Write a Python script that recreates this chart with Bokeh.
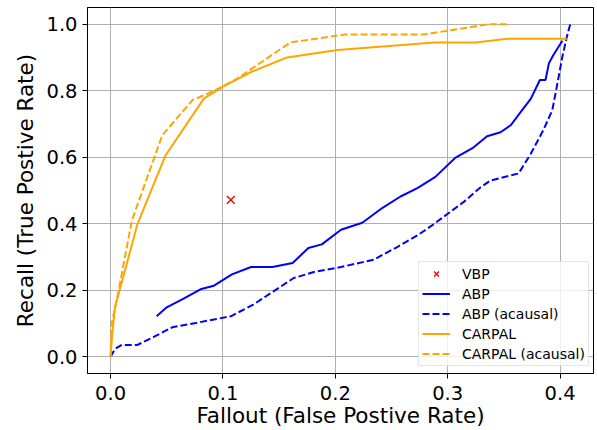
from bokeh.plotting import figure
from bokeh.models import Legend, LegendItem, FixedTicker, PrintfTickFormatter, Range1d
from bokeh.embed import file_html
from bokeh.resources import INLINE

# ---- data ----
vbp_x = [0.107]
vbp_y = [0.472]

abp_x = [0.041, 0.050, 0.065, 0.080, 0.092, 0.108, 0.125, 0.144, 0.162, 0.176,
         0.188, 0.205, 0.224, 0.242, 0.258, 0.273, 0.289, 0.307, 0.322, 0.335,
         0.347, 0.356, 0.365, 0.374, 0.382, 0.387, 0.390, 0.394, 0.402]
abp_y = [0.122, 0.149, 0.175, 0.203, 0.214, 0.248, 0.270, 0.270, 0.282, 0.327,
         0.338, 0.382, 0.403, 0.448, 0.482, 0.507, 0.541, 0.599, 0.627, 0.663,
         0.675, 0.696, 0.736, 0.776, 0.832, 0.832, 0.882, 0.907, 0.950]

abp_ac_x = [0.000, 0.004, 0.010, 0.024, 0.038, 0.055, 0.076, 0.107, 0.127, 0.145,
            0.163, 0.181, 0.205, 0.234, 0.255, 0.273, 0.286, 0.300, 0.314, 0.329,
            0.338, 0.363, 0.374, 0.385, 0.393, 0.397, 0.402, 0.406, 0.409]
abp_ac_y = [0.000, 0.024, 0.036, 0.036, 0.059, 0.089, 0.102, 0.122, 0.157, 0.197,
            0.237, 0.255, 0.270, 0.292, 0.330, 0.365, 0.395, 0.430, 0.465, 0.509,
            0.530, 0.551, 0.611, 0.681, 0.741, 0.811, 0.902, 0.962, 1.000]

carpal_x = [0.000, 0.0015, 0.004, 0.024, 0.049, 0.083, 0.100, 0.125, 0.157, 0.202,
            0.288, 0.325, 0.353, 0.406]
carpal_y = [0.000, 0.069, 0.149, 0.400, 0.606, 0.776, 0.812, 0.856, 0.900, 0.922,
            0.945, 0.945, 0.956, 0.956]

carpal_ac_x = [0.000, 0.001, 0.006, 0.019, 0.046, 0.073, 0.083, 0.099, 0.113, 0.160,
               0.209, 0.279, 0.337, 0.353]
carpal_ac_y = [0.000, 0.100, 0.179, 0.410, 0.666, 0.772, 0.786, 0.811, 0.837, 0.945,
               0.969, 0.969, 1.000, 1.000]

x_ticks = [0.0, 0.1, 0.2, 0.3, 0.4]
y_ticks = [0.0, 0.2, 0.4, 0.6, 0.8, 1.0]

FONT = "DejaVu Sans"
BLUE = "#0000ff"
ORANGE = "#ffa500"

p = figure(width=597, height=430,
           x_range=Range1d(-0.0205, 0.4297), y_range=Range1d(-0.05, 1.05),
           output_backend="svg", toolbar_location=None,
           min_border_left=87, min_border_right=4, min_border_top=7,
           min_border_bottom=50)

p.background_fill_color = "white"
p.outline_line_color = "black"
p.outline_line_width = 1

for ax in (p.xaxis[0], p.yaxis[0]):
    ax.major_label_text_font = FONT
    ax.major_label_text_font_size = "19.5px"
    ax.major_label_text_color = "black"
    ax.axis_label_text_font = FONT
    ax.axis_label_text_font_size = "21.5px"
    ax.axis_label_text_font_style = "normal"
    ax.axis_label_text_color = "black"
    ax.axis_line_color = "black"
    ax.major_tick_line_color = "black"
    ax.major_tick_in = 0
    ax.major_tick_out = 5
    ax.minor_tick_line_color = None
    ax.major_label_standoff = 5
    ax.formatter = PrintfTickFormatter(format="%.1f")

p.xaxis[0].ticker = FixedTicker(ticks=x_ticks)
p.yaxis[0].ticker = FixedTicker(ticks=y_ticks)
p.xaxis[0].axis_label = "Fallout (False Postive Rate)"
p.yaxis[0].axis_label = "Recall (True Postive Rate)"
p.xaxis[0].major_label_standoff = 7
p.xaxis[0].axis_label_standoff = 0
p.yaxis[0].axis_label_standoff = 5

p.xgrid.grid_line_color = "#b0b0b0"
p.ygrid.grid_line_color = "#b0b0b0"
p.xgrid.grid_line_width = 1
p.ygrid.grid_line_width = 1

r_vbp = p.scatter(vbp_x, vbp_y, marker="x", size=11, line_color="#ff0000", line_width=1.4)
r_abp = p.line(abp_x, abp_y, line_color=BLUE, line_width=2)
r_abp_ac = p.line(abp_ac_x, abp_ac_y, line_color=BLUE, line_width=2, line_dash="7 3")
r_car = p.line(carpal_x, carpal_y, line_color=ORANGE, line_width=2)
r_car_ac = p.line(carpal_ac_x, carpal_ac_y, line_color=ORANGE, line_width=2, line_dash="7 3")

legend = Legend(items=[
    LegendItem(label="VBP", renderers=[r_vbp]),
    LegendItem(label="ABP", renderers=[r_abp]),
    LegendItem(label="ABP (acausal)", renderers=[r_abp_ac]),
    LegendItem(label="CARPAL", renderers=[r_car]),
    LegendItem(label="CARPAL (acausal)", renderers=[r_car_ac]),
], location=(331, 7))
legend.margin = 0
legend.padding = 3
legend.spacing = 3
legend.label_height = 17
legend.glyph_height = 17
legend.glyph_width = 28
legend.label_standoff = 12
legend.label_text_font = FONT
legend.label_text_font_size = "14px"
legend.label_text_color = "black"
legend.border_line_color = "#cccccc"
legend.border_line_width = 1
legend.background_fill_color = "white"
legend.background_fill_alpha = 0.8
p.add_layout(legend)

open("out.html", "w").write(file_html(p, INLINE))
